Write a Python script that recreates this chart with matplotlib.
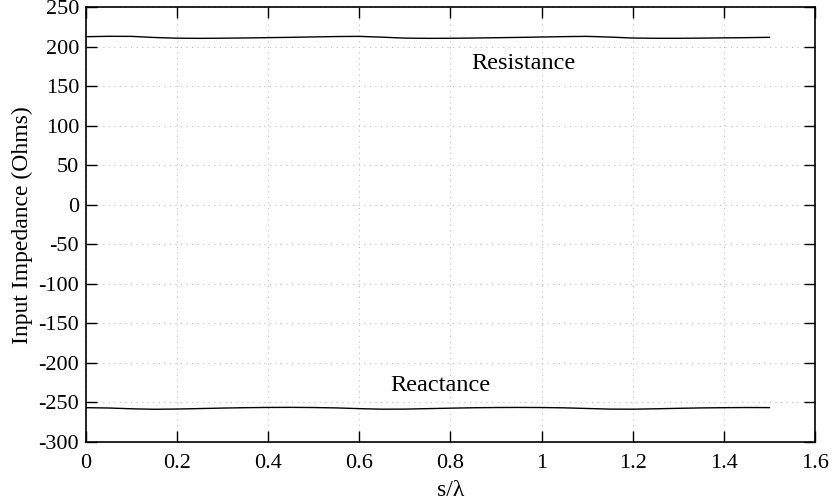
import matplotlib
matplotlib.use("Agg")
import matplotlib.pyplot as plt
import numpy as np

plt.rcParams['font.family'] = ['Liberation Serif', 'DejaVu Serif']
plt.rcParams['axes.unicode_minus'] = False

# spacing / wavelength
s_lambda = [0.00, 0.05, 0.10, 0.15, 0.20, 0.25, 0.30, 0.35, 0.40, 0.45,
            0.50, 0.55, 0.60, 0.65, 0.70, 0.75, 0.80, 0.85, 0.90, 0.95,
            1.00, 1.05, 1.10, 1.15, 1.20, 1.25, 1.30, 1.35, 1.40, 1.45, 1.50]

resistance = [212.8, 213.3, 213.2, 211.8, 210.9, 210.7, 210.9, 211.2, 211.6, 212.0,
              212.5, 213.0, 213.2, 212.2, 211.0, 210.7, 210.8, 211.1, 211.5, 211.9,
              212.4, 212.9, 213.2, 212.3, 211.1, 210.8, 210.8, 211.0, 211.3, 211.6, 212.0]

reactance = [-256.6, -257.0, -258.0, -258.6, -258.3, -257.7, -257.1, -256.6, -256.3, -256.2,
             -256.4, -256.9, -257.8, -258.5, -258.4, -257.8, -257.2, -256.7, -256.4, -256.3,
             -256.4, -256.8, -257.6, -258.4, -258.5, -258.0, -257.4, -256.9, -256.6, -256.4, -256.5]

x_ticks = [0, 0.2, 0.4, 0.6, 0.8, 1.0, 1.2, 1.4, 1.6]
x_ticklabels = ['0', '0.2', '0.4', '0.6', '0.8', '1', '1.2', '1.4', '1.6']
y_ticks = list(range(-300, 251, 50))

fig = plt.figure(figsize=(8.34, 5.03), dpi=100)
ax = fig.add_axes([0.1031, 0.1213, 0.8741, 0.8642])

ax.plot(s_lambda, resistance, color='black', linewidth=1.0)
ax.plot(s_lambda, reactance, color='black', linewidth=1.0)

ax.text(0.961, 179, 'Resistance', ha='center', va='center', fontsize=17.5)
ax.text(0.777, -229, 'Reactance', ha='center', va='center', fontsize=17.5)

ax.set_xlim(0, 1.6)
ax.set_ylim(-300, 250)
ax.set_xticks(x_ticks)
ax.set_xticklabels(x_ticklabels)
ax.set_yticks(y_ticks)

ax.grid(True, color='#c0c0c0', linestyle=(0, (1, 4)), linewidth=0.8)
ax.tick_params(direction='in', length=8, width=1.0, top=True, right=True,
               labelsize=16)
ax.tick_params(axis='x', pad=9)
ax.tick_params(axis='y', pad=5)
for sp in ax.spines.values():
    sp.set_linewidth(1.2)

ax.set_xlabel('s/λ', fontsize=17, labelpad=5)
ax.set_ylabel('Input Impedance (Ohms)', fontsize=17, labelpad=4)

fig.savefig('out.png', dpi=100)
